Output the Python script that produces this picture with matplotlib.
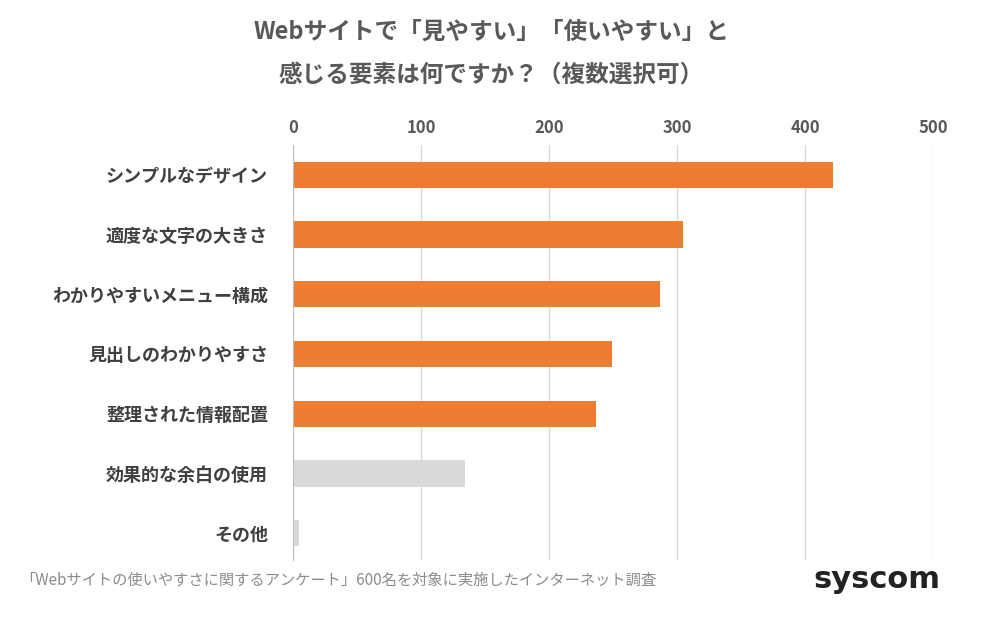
import matplotlib.pyplot as plt

plt.rcParams['font.family'] = 'Noto Sans CJK JP'

categories = ['シンプルなデザイン', '適度な文字の大きさ', 'わかりやすいメニュー構成',
              '見出しのわかりやすさ', '整理された情報配置', '効果的な余白の使用', 'その他']
values = [422, 305, 287, 249, 237, 134, 5]
highlight = [True, True, True, True, True, False, False]
ticks = [0, 100, 200, 300, 400, 500]

fig = plt.figure(figsize=(9.82, 6.2), dpi=100)
ax = fig.add_axes([293 / 982, 1 - 560 / 620, 640 / 982, 415 / 620])

colors = ['#ed7d31' if h else '#d9d9d9' for h in highlight]
ax.barh(range(len(categories)), values, height=0.44, color=colors, zorder=2)

ax.set_xlim(0, 500)
ax.set_ylim(6.45, -0.5)
ax.set_xticks(ticks)
ax.xaxis.tick_top()
ax.tick_params(axis='x', length=0, labelsize=12, labelcolor='#595959', pad=6)
ax.tick_params(axis='y', length=0, labelsize=13, labelcolor='#404040', pad=18)
for lbl in ax.get_xticklabels() + ax.get_yticklabels():
    lbl.set_fontweight('bold')
ax.set_yticks(range(len(categories)))
ax.set_yticklabels(categories)
ax.grid(axis='x', color='#d9d9d9', linewidth=1, zorder=0)
for s in ['top', 'right', 'bottom']:
    ax.spines[s].set_visible(False)
ax.spines['left'].set_color('#bfbfbf')

fig.text(0.5, 1 - 32 / 620, 'Webサイトで「見やすい」「使いやすい」と', ha='center', va='center',
         fontsize=17, fontweight='bold', color='#595959')
fig.text(0.5, 1 - 75 / 620, '感じる要素は何ですか？（複数選択可）', ha='center', va='center',
         fontsize=17, fontweight='bold', color='#595959')
fig.text(20 / 982, 1 - 580 / 620, '「Webサイトの使いやすさに関するアンケート」600名を対象に実施したインターネット調査',
         ha='left', va='center', fontsize=11, color='#8c8c8c')
fig.text(940 / 982, 1 - 580 / 620, 'syscom', ha='right', va='center',
         fontsize=22, fontweight='bold', color='#222222', family='DejaVu Sans')

fig.savefig('out.png', dpi=100)
